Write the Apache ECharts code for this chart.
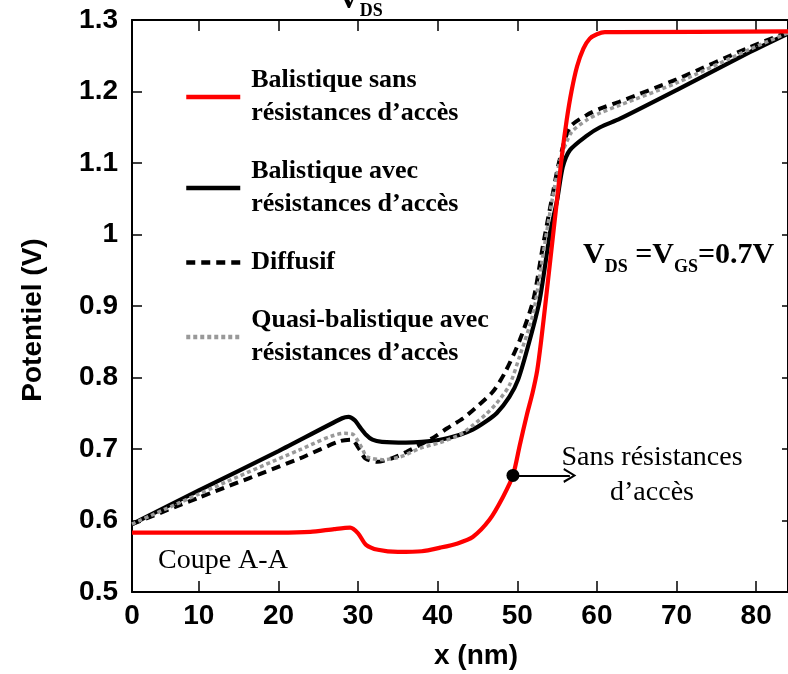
<!DOCTYPE html>
<html>
<head>
<meta charset="utf-8">
<script src="https://cdn.jsdelivr.net/npm/echarts@6/dist/echarts.min.js"></script>
<style>
html,body{margin:0;padding:0;background:#fff;}
#chart{width:788px;height:674px;}
</style>
</head>
<body>
<div id="chart"></div>
<script>
// ---- data (x in nm, potential in V) ----
const seriesNames = [
  'Balistique sans\nrésistances d\u2019accès',
  'Balistique avec\nrésistances d\u2019accès',
  'Diffusif',
  'Quasi-balistique avec\nrésistances d\u2019accès'
];
const xRed = [1.6, 10, 20, 24, 27, 29, 30, 31, 32.5, 35, 38, 40.3, 42.5, 44.4, 46.5, 48.2, 49.45, 50.3, 51.2, 51.9, 52.5, 53.0, 53.6, 54.3, 54.9, 55.6, 56.2, 56.8, 57.5, 58.3, 59.1, 60, 61, 62.5, 84];
const yRed = [0.583, 0.583, 0.583, 0.584, 0.588, 0.590, 0.582, 0.566, 0.559, 0.556, 0.557, 0.562, 0.568, 0.577, 0.601, 0.633, 0.663, 0.705, 0.748, 0.778, 0.810, 0.852, 0.910, 0.980, 1.040, 1.110, 1.160, 1.200, 1.235, 1.260, 1.274, 1.280, 1.283, 1.283, 1.284];

const xBlack = [1.6, 10, 20, 28.0, 28.8, 29.6, 30.2, 31.0, 31.8, 33, 36, 38, 40.3, 42.8, 44.4, 46, 47.4, 49, 50.1, 51.5, 52.8, 54.1, 55, 55.7, 56.6, 58.7, 60.4, 62.9, 70, 79.2, 84];
const yBlack = [0.595, 0.642, 0.697, 0.743, 0.745, 0.740, 0.731, 0.720, 0.713, 0.710, 0.709, 0.710, 0.713, 0.720, 0.727, 0.738, 0.750, 0.773, 0.797, 0.850, 0.908, 1.002, 1.048, 1.094, 1.118, 1.138, 1.150, 1.162, 1.202, 1.255, 1.281];

const xDash = [1.6, 10, 22.7, 27.7, 29.2, 30.2, 30.9, 32.4, 34, 36.1, 37.8, 39.6, 41.2, 43.2, 45, 47, 48.5, 50.3, 52, 53.2, 54.3, 55.3, 56.6, 58.7, 60.4, 62.9, 70, 79.2, 84];
const yDash = [0.595, 0.632, 0.687, 0.711, 0.713, 0.699, 0.687, 0.682, 0.686, 0.696, 0.706, 0.717, 0.729, 0.743, 0.760, 0.781, 0.808, 0.852, 0.908, 0.983, 1.048, 1.104, 1.150, 1.167, 1.176, 1.186, 1.217, 1.262, 1.283];

const xGray = [1.6, 10, 22.7, 28.3, 29.4, 30.5, 31.1, 33.1, 35.3, 37.8, 40.3, 42.8, 44.4, 46, 47.4, 49, 50.3, 52, 53.2, 54.4, 55.4, 56.8, 58.7, 60.4, 62.9, 70, 79.2, 84];
const yGray = [0.595, 0.637, 0.699, 0.722, 0.720, 0.701, 0.689, 0.685, 0.689, 0.701, 0.709, 0.720, 0.733, 0.748, 0.764, 0.789, 0.830, 0.890, 0.970, 1.050, 1.105, 1.143, 1.160, 1.170, 1.181, 1.212, 1.259, 1.282];

const xTicks = [10, 20, 30, 40, 50, 60, 70, 80];
const xLabelValues = [1.6, 10, 20, 30, 40, 50, 60, 70, 80];
const dotPoint = [49.45, 0.663];
const arrowEnd = [56.6, 0.663];

function zip(xs, ys) { return xs.map((x, i) => [x, ys[i]]); }

const chart = echarts.init(document.getElementById('chart'));
const axisColor = '#000';
const sansBold = '"Liberation Sans", Arial, sans-serif';
const serifBig = 'bold 30px "Liberation Serif", "Times New Roman", serif';
const serifSub = 'bold 18px "Liberation Serif", "Times New Roman", serif';
const serifReg = '28px "Liberation Serif", "Times New Roman", serif';

function txt(text, x, y, font, align) {
  return { type: 'text', x: x, y: y, z: 20, silent: true,
    style: { text: text, font: font, fill: '#000', verticalAlign: 'middle', align: align || 'left' } };
}

const option = {
  backgroundColor: '#fff',
  animation: false,
  grid: { left: 132, right: 0, top: 20, bottom: 82, containLabel: false, outerBoundsMode: 'none' },
  legend: {
    orient: 'vertical',
    left: 184,
    top: 64,
    padding: 0,
    itemGap: 25,
    itemWidth: 54,
    itemHeight: 14,
    selectedMode: false,
    data: seriesNames,
    itemStyle: { opacity: 0 },
    lineStyle: { width: 4.5 },
    textStyle: {
      fontFamily: '"Liberation Serif", "Times New Roman", serif', fontWeight: 'bold', fontSize: 26, lineHeight: 33, color: '#000',
      padding: [0, 0, 0, 6]
    }
  },
  xAxis: [{
    type: 'value', min: 1.6, max: 84, position: 'bottom',
    name: 'x (nm)', nameLocation: 'middle', nameGap: 50,
    nameTextStyle: { fontFamily: sansBold, fontWeight: 'bold', fontSize: 28, color: '#000', padding: [0, 0, 0, 32] },
    axisLine: { show: true, onZero: false, lineStyle: { color: axisColor, width: 2 } },
    axisTick: { show: true, inside: true, length: 11, customValues: xTicks, lineStyle: { color: axisColor, width: 1.5 } },
    axisLabel: {
      show: true, margin: 10, customValues: xLabelValues,
      fontFamily: sansBold, fontWeight: 'bold', fontSize: 28, color: '#000',
      formatter: v => (v < 5 ? '0' : String(Math.round(v)))
    },
    splitLine: { show: false }
  }, {
    type: 'value', min: 1.6, max: 84, position: 'top',
    axisLine: { show: true, onZero: false, lineStyle: { color: axisColor, width: 2 } },
    axisTick: { show: true, inside: true, length: 11, customValues: xTicks, lineStyle: { color: axisColor, width: 1.5 } },
    axisLabel: { show: false },
    splitLine: { show: false }
  }],
  yAxis: [{
    type: 'value', min: 0.5, max: 1.3, interval: 0.1, position: 'left',
    name: 'Potentiel (V)', nameLocation: 'middle', nameGap: 85,
    nameTextStyle: { fontFamily: sansBold, fontWeight: 'bold', fontSize: 28, color: '#000', padding: [0, 28, 0, 0] },
    axisLine: { show: true, onZero: false, lineStyle: { color: axisColor, width: 2 } },
    axisTick: { show: true, inside: true, length: 10, lineStyle: { color: axisColor, width: 1.5 } },
    axisLabel: {
      show: true, margin: 14, fontFamily: sansBold, fontWeight: 'bold', fontSize: 28, color: '#000',
      formatter: v => String(Math.round(v * 10) / 10)
    },
    splitLine: { show: false }
  }, {
    type: 'value', min: 0.5, max: 1.3, interval: 0.1, position: 'right',
    axisLine: { show: true, onZero: false, lineStyle: { color: axisColor, width: 2 } },
    axisTick: { show: true, inside: true, length: 6, lineStyle: { color: axisColor, width: 1.5 } },
    axisLabel: { show: false },
    splitLine: { show: false }
  }],
  series: [
    {
      name: seriesNames[0], type: 'line', data: zip(xRed, yRed), symbol: 'none', smooth: 0.25,
      z: 5,
      lineStyle: { color: '#ff0000', width: 4.2 }, itemStyle: { color: '#ff0000' },
      markLine: {
        silent: true,
        symbol: ['circle', 'path://M5,0 L10,10 L8.6,10.6 L5,3 L1.4,10.6 L0,10 Z'],
        symbolSize: [15, 13],
        label: { show: false },
        lineStyle: { color: '#000', width: 2, type: 'solid' },
        itemStyle: { color: '#000' },
        data: [[{ coord: dotPoint }, { coord: arrowEnd }]],
        z: 10
      }
    },
    {
      name: seriesNames[1], type: 'line', data: zip(xBlack, yBlack), symbol: 'none', smooth: 0.25,
      lineStyle: { color: '#000', width: 4.2 }, itemStyle: { color: '#000' }
    },
    {
      name: seriesNames[2], type: 'line', data: zip(xDash, yDash), symbol: 'none', smooth: 0.25,
      lineStyle: { color: '#000', width: 4, type: [9, 6] }, itemStyle: { color: '#000' }
    },
    {
      name: seriesNames[3], type: 'line', data: zip(xGray, yGray), symbol: 'none', smooth: 0.25,
      lineStyle: { color: '#999', width: 3.5, type: [4, 3] }, itemStyle: { color: '#999' }
    }
  ],
  graphic: [
    // title fragment at top (cut off): V with subscript DS
    txt('V', 338, 0.7, serifBig),
    txt('DS', 359.7, 11.7, serifSub),
    // V_DS = V_GS = 0.7V
    txt('V', 583, 255.7, serifBig),
    txt('DS', 604.7, 266.9, serifSub),
    txt(' =V', 627.7, 255.7, serifBig),
    txt('GS', 674, 266.9, serifSub),
    txt('=0.7V', 698, 255.7, serifBig),
    txt('Coupe A-A', 158, 561, serifReg),
    {
      type: 'text', x: 652, y: 475, z: 20, silent: true,
      style: { text: 'Sans résistances\nd\u2019accès', font: serifReg, lineHeight: 35, fill: '#000', verticalAlign: 'middle', align: 'center' }
    }
  ]
};
chart.setOption(option);
</script>
</body>
</html>
